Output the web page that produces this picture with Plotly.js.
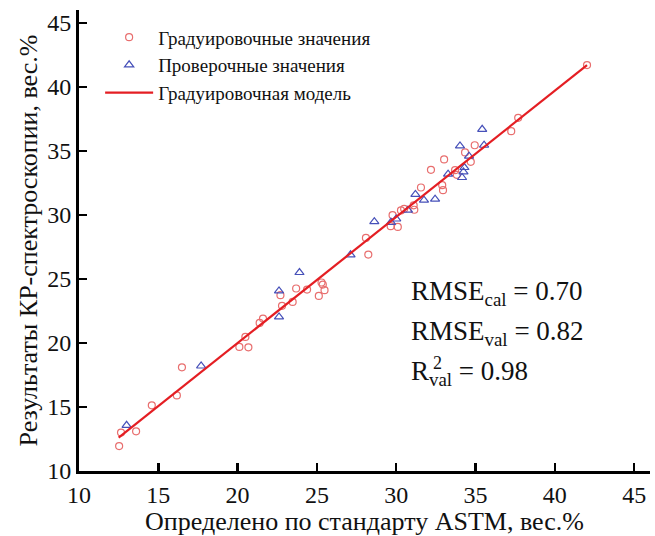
<!DOCTYPE html>
<html>
<head>
<meta charset="utf-8">
<script src="https://cdn.plot.ly/plotly-3.0.1.min.js"></script>
<style>
  html, body { margin: 0; padding: 0; background: #fff; }
  #chart { width: 655px; height: 536px; }
</style>
</head>
<body>
<div id="chart"></div>
<script>
// Calibration set: reference (ASTM) vs. Raman-predicted values, wt.%
const calX = [12.53, 12.65, 13.6, 14.59, 16.17, 16.49, 20.11, 20.68, 20.49, 21.39,
              21.6, 22.7, 22.8, 23.47, 23.69, 24.38, 25.12, 25.29, 25.37, 25.48,
              28.09, 28.24, 29.65, 29.77, 30.1, 30.3, 30.5, 31.14, 31.1, 31.56,
              32.19, 32.9, 32.95, 33.02, 33.71, 33.82, 34.34, 34.7, 34.95, 37.25,
              37.69, 42.03];
const calY = [11.95, 13.0, 13.1, 15.13, 15.9, 18.1, 19.69, 19.66, 20.47, 21.56,
              21.9, 23.73, 22.9, 23.2, 24.25, 24.17, 23.67, 24.72, 24.56, 24.12,
              28.2, 26.9, 29.12, 29.98, 29.06, 30.35, 30.47, 30.4, 30.75, 32.14,
              33.52, 32.32, 31.93, 34.33, 33.49, 33.13, 34.88, 34.14, 35.44, 36.54,
              37.58, 41.7];

// Validation set
const valX = [13.0, 17.7, 22.61, 23.9, 22.61, 27.12, 28.62, 29.67, 30.0, 30.74,
              31.21, 31.75, 32.45, 33.27, 34.24, 34.3, 34.15, 34.02, 34.59, 35.54,
              35.42];
const valY = [13.57, 18.2, 24.06, 25.5, 22.03, 26.88, 29.47, 29.42, 29.68, 30.37,
              31.6, 31.15, 31.23, 33.18, 33.36, 33.7, 32.92, 35.39, 34.59, 35.44,
              36.68];

// Calibration model line end points
const modelX = [12.5, 42.03];
const modelY = [12.6, 41.7];

// Axis ticks
const tickVals = [10, 15, 20, 25, 30, 35, 40, 45];
const tickText = ['10', '15', '20', '25', '30', '35', '40', '45'];

// Figures of merit
const statLines = [
  'RMSE<sub>cal</sub> = 0.70',
  'RMSE<sub>val</sub> = 0.82',
  'R<sub>val</sub> = 0.98'
];

const serif = 'Liberation Serif, Times New Roman, serif';

const traces = [
  {
    x: calX, y: calY, type: 'scatter', mode: 'markers',
    name: 'Градуировочные значения',
    marker: { symbol: 'circle-open', size: 7, color: 'rgb(232,110,110)', line: { width: 1.2 } }
  },
  {
    x: valX, y: valY, type: 'scatter', mode: 'markers',
    name: 'Проверочные значения',
    marker: { symbol: 'triangle-up-open', size: 8, color: 'rgb(70,80,185)', line: { width: 1.2 } }
  },
  {
    x: modelX, y: modelY, type: 'scatter', mode: 'lines',
    name: 'Градуировочная модель',
    line: { color: 'rgb(228,30,35)', width: 2.2 }
  }
];

const axisCommon = {
  range: [10, 46],
  tickvals: tickVals,
  ticktext: tickText,
  ticks: 'inside',
  ticklen: 8,
  tickwidth: 2.5,
  tickcolor: '#000',
  showline: true,
  linewidth: 3,
  linecolor: '#000',
  showgrid: false,
  zeroline: false,
  tickfont: { family: serif, size: 24, color: '#111' }
};

const annotations = statLines.map((t, i) => ({
  xref: 'paper', yref: 'paper',
  x: (409 - 79) / 571, y: (470.7 - (293 + 40 * i)) / 460.8,
  xanchor: 'left', yanchor: 'middle',
  text: t, showarrow: false,
  font: { family: serif, size: 27, color: '#111' }
}));
// superscript of R², stacked above the "val" subscript
annotations.push({
  xref: 'paper', yref: 'paper',
  x: (431 - 79) / 571, y: (470.7 - 363) / 460.8,
  xanchor: 'left', yanchor: 'middle',
  text: '2', showarrow: false,
  font: { family: serif, size: 18, color: '#111' }
});

const layout = {
  width: 655, height: 536,
  margin: { l: 79, r: 5, t: 10, b: 65 },
  paper_bgcolor: '#fff', plot_bgcolor: '#fff',
  showlegend: true,
  legend: {
    x: 0.037, y: 0.982, xanchor: 'left', yanchor: 'top',
    bgcolor: 'rgba(0,0,0,0)',
    font: { family: serif, size: 19, color: '#111' },
    itemwidth: 48
  },
  xaxis: Object.assign({}, axisCommon, {
    title: { text: 'Определено по стандарту ASTM, вес.%', font: { family: serif, size: 26, color: '#111' }, standoff: 6 }
  }),
  yaxis: Object.assign({}, axisCommon, {
    title: { text: 'Результаты КР-спектроскопии, вес.%', font: { family: serif, size: 26, color: '#111' }, standoff: 3 }
  }),
  annotations: annotations
};

Plotly.newPlot('chart', traces, layout, { staticPlot: true, displayModeBar: false });
</script>
</body>
</html>
